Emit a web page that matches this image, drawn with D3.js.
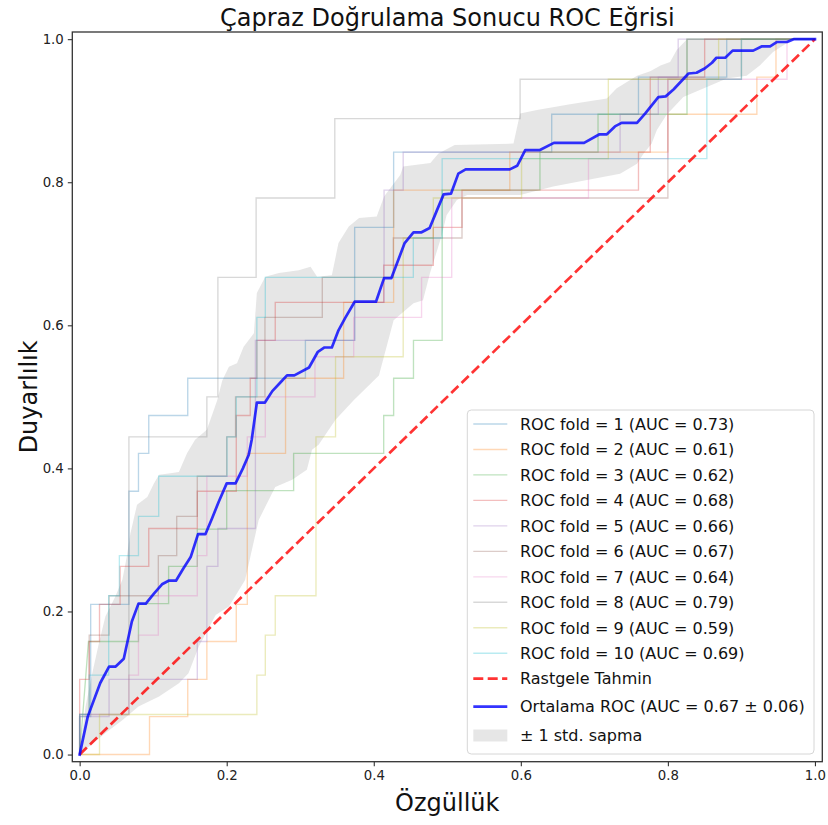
<!DOCTYPE html>
<html>
<head>
<meta charset="utf-8">
<script src="https://cdn.jsdelivr.net/npm/d3@7"></script>
<style>
  html, body { margin: 0; padding: 0; background: #fff; }
  svg { display: block; font-family: "DejaVu Sans", sans-serif; }
</style>
</head>
<body>
<svg id="chart" width="828" height="825"></svg>
<script>
// ---------------- DATA ----------------
const chartTitle = "Çapraz Doğrulama Sonucu ROC Eğrisi";
const xLabel = "Özgüllük";
const yLabel = "Duyarlılık";
const tickValues = [0, 0.2, 0.4, 0.6, 0.8, 1.0];
const foldAUCs = [0.73, 0.61, 0.62, 0.68, 0.66, 0.67, 0.64, 0.79, 0.59, 0.69];
const meanAUC = 0.67, stdAUC = 0.06;
const chanceLabel = "Rastgele Tahmin";
const stdLabel = "± 1 std. sapma";

const fold1 = [[0,0],[0,0.053],[0.015,0.053],[0.015,0.21],[0.067,0.21],[0.067,0.368],[0.08,0.368],[0.08,0.421],[0.094,0.421],[0.094,0.474],[0.147,0.474],[0.147,0.526],[0.307,0.526],[0.307,0.579],[0.374,0.579],[0.374,0.737],[0.427,0.737],[0.427,0.842],[0.642,0.842],[0.642,0.895],[0.76,0.895],[0.76,0.947],[0.88,0.947],[0.88,1],[1,1]];
const fold2 = [[0,0],[0.095,0],[0.095,0.053],[0.147,0.053],[0.147,0.105],[0.173,0.105],[0.173,0.158],[0.213,0.158],[0.213,0.21],[0.228,0.21],[0.228,0.421],[0.28,0.421],[0.28,0.526],[0.359,0.526],[0.359,0.632],[0.427,0.632],[0.427,0.789],[0.585,0.789],[0.585,0.842],[0.80,0.842],[0.80,0.895],[0.921,0.895],[0.921,0.947],[0.947,0.947],[0.947,1],[1,1]];
const fold3 = [[0,0],[0.012,0.158],[0.08,0.158],[0.08,0.211],[0.121,0.211],[0.121,0.263],[0.16,0.263],[0.16,0.315],[0.2,0.315],[0.2,0.369],[0.291,0.369],[0.291,0.421],[0.4135,0.421],[0.4135,0.474],[0.427,0.474],[0.427,0.526],[0.454,0.526],[0.454,0.579],[0.493,0.579],[0.493,0.789],[0.626,0.789],[0.626,0.842],[0.705,0.842],[0.705,0.895],[0.826,0.895],[0.826,1],[1,1]];
const fold4 = [[0,0],[0,0.105],[0.013,0.105],[0.013,0.158],[0.027,0.158],[0.027,0.21],[0.055,0.21],[0.055,0.263],[0.094,0.263],[0.094,0.316],[0.16,0.316],[0.16,0.368],[0.213,0.368],[0.213,0.474],[0.232,0.474],[0.232,0.526],[0.241,0.526],[0.241,0.579],[0.266,0.579],[0.266,0.632],[0.4135,0.632],[0.4135,0.684],[0.481,0.684],[0.481,0.737],[0.52,0.737],[0.52,0.789],[0.76,0.789],[0.76,0.842],[0.776,0.842],[0.776,0.947],[0.85,0.947],[0.85,1],[1,1]];
const fold5 = [[0,0],[0,0.053],[0.04,0.053],[0.04,0.105],[0.16,0.105],[0.16,0.158],[0.173,0.158],[0.173,0.263],[0.188,0.263],[0.188,0.316],[0.239,0.316],[0.239,0.579],[0.374,0.579],[0.374,0.632],[0.414,0.632],[0.414,0.789],[0.44,0.789],[0.44,0.842],[0.735,0.842],[0.735,0.895],[0.787,0.895],[0.787,0.947],[0.814,0.947],[0.814,1],[1,1]];
const fold6 = [[0,0],[0,0.056],[0.013,0.056],[0.013,0.167],[0.04,0.167],[0.04,0.222],[0.107,0.222],[0.107,0.278],[0.132,0.278],[0.132,0.333],[0.16,0.333],[0.16,0.389],[0.2,0.389],[0.2,0.444],[0.212,0.444],[0.212,0.5],[0.252,0.5],[0.252,0.611],[0.33,0.611],[0.33,0.667],[0.4266,0.667],[0.4266,0.722],[0.52,0.722],[0.52,0.778],[0.80,0.778],[0.80,0.944],[0.9,0.944],[0.9,1],[1,1]];
const fold7 = [[0,0],[0,0.056],[0.067,0.056],[0.067,0.111],[0.08,0.111],[0.08,0.167],[0.107,0.167],[0.107,0.222],[0.16,0.222],[0.16,0.278],[0.173,0.278],[0.173,0.389],[0.228,0.389],[0.228,0.444],[0.2525,0.444],[0.2525,0.5],[0.32,0.5],[0.32,0.556],[0.3727,0.556],[0.3727,0.611],[0.465,0.611],[0.465,0.667],[0.506,0.667],[0.506,0.778],[0.692,0.778],[0.692,0.833],[0.80,0.833],[0.80,0.944],[0.962,0.944],[0.962,1],[1,1]];
const fold8 = [[0,0],[0,0.056],[0.067,0.056],[0.067,0.444],[0.173,0.444],[0.173,0.5],[0.188,0.5],[0.188,0.667],[0.24,0.667],[0.24,0.778],[0.347,0.778],[0.347,0.889],[0.599,0.889],[0.599,0.944],[0.826,0.944],[0.826,1],[1,1]];
const fold9 = [[0,0],[0.027,0],[0.027,0.056],[0.241,0.056],[0.241,0.111],[0.2525,0.111],[0.2525,0.167],[0.266,0.167],[0.266,0.222],[0.3214,0.222],[0.3214,0.444],[0.348,0.444],[0.348,0.556],[0.44,0.556],[0.44,0.722],[0.481,0.722],[0.481,0.778],[0.601,0.778],[0.601,0.833],[0.719,0.833],[0.719,0.944],[0.869,0.944],[0.869,1],[1,1]];
const fold10 = [[0,0],[0,0.056],[0.013,0.056],[0.013,0.111],[0.0395,0.111],[0.0395,0.222],[0.054,0.222],[0.054,0.278],[0.08,0.278],[0.08,0.333],[0.1075,0.333],[0.1075,0.389],[0.2004,0.389],[0.2004,0.444],[0.213,0.444],[0.213,0.5],[0.241,0.5],[0.241,0.611],[0.2525,0.611],[0.2525,0.667],[0.4538,0.667],[0.4538,0.722],[0.493,0.722],[0.493,0.833],[0.853,0.833],[0.853,0.944],[0.9,0.944],[0.9,1],[1,1]];
const folds = [fold1, fold2, fold3, fold4, fold5, fold6, fold7, fold8, fold9, fold10];

const meanROC = [[0,0],[0.011,0.053],[0.028,0.1],[0.04,0.123],[0.049,0.123],[0.06,0.134],[0.071,0.186],[0.08,0.211],[0.09,0.211],[0.101,0.225],[0.112,0.238],[0.121,0.243],[0.131,0.243],[0.141,0.26],[0.151,0.276],[0.161,0.308],[0.171,0.308],[0.18,0.33],[0.189,0.353],[0.2,0.379],[0.212,0.379],[0.222,0.4],[0.23,0.419],[0.234,0.44],[0.241,0.492],[0.252,0.492],[0.262,0.508],[0.273,0.52],[0.282,0.53],[0.292,0.53],[0.312,0.541],[0.324,0.563],[0.333,0.569],[0.343,0.569],[0.352,0.593],[0.361,0.61],[0.374,0.633],[0.403,0.633],[0.414,0.666],[0.424,0.666],[0.442,0.715],[0.454,0.73],[0.465,0.73],[0.476,0.736],[0.486,0.761],[0.495,0.783],[0.505,0.784],[0.515,0.812],[0.525,0.818],[0.585,0.818],[0.595,0.823],[0.606,0.845],[0.626,0.845],[0.645,0.855],[0.686,0.855],[0.707,0.867],[0.717,0.867],[0.728,0.878],[0.737,0.883],[0.758,0.883],[0.769,0.896],[0.787,0.919],[0.797,0.92],[0.808,0.93],[0.828,0.952],[0.839,0.953],[0.85,0.959],[0.86,0.967],[0.866,0.974],[0.878,0.974],[0.888,0.984],[0.916,0.984],[0.928,0.99],[0.939,0.99],[0.948,0.996],[0.962,0.996],[0.971,1],[1,1]];

const stdUpper = [[0,0],[0.008,0.067],[0.017,0.113],[0.026,0.155],[0.035,0.193],[0.0485,0.221],[0.058,0.244],[0.064,0.276],[0.069,0.309],[0.078,0.349],[0.092,0.36],[0.101,0.379],[0.108,0.391],[0.121,0.393],[0.135,0.395],[0.146,0.421],[0.157,0.44],[0.173,0.454],[0.187,0.495],[0.194,0.523],[0.203,0.542],[0.214,0.547],[0.223,0.57],[0.237,0.589],[0.241,0.645],[0.2525,0.668],[0.271,0.673],[0.298,0.677],[0.314,0.682],[0.323,0.668],[0.343,0.67],[0.352,0.715],[0.366,0.738],[0.38,0.75],[0.404,0.752],[0.414,0.78],[0.436,0.81],[0.44,0.822],[0.477,0.827],[0.488,0.84],[0.51,0.852],[0.59,0.854],[0.599,0.896],[0.622,0.901],[0.667,0.909],[0.717,0.917],[0.73,0.931],[0.758,0.949],[0.776,0.955],[0.79,0.963],[0.803,0.968],[0.812,0.985],[0.826,1],[1,1]];
const stdLower = [[0,0],[0.035,0.03],[0.058,0.048],[0.08,0.067],[0.108,0.081],[0.135,0.0995],[0.148,0.1135],[0.162,0.151],[0.185,0.195],[0.203,0.207],[0.225,0.244],[0.2435,0.328],[0.266,0.374],[0.289,0.384],[0.309,0.398],[0.316,0.426],[0.325,0.433],[0.348,0.468],[0.373,0.4955],[0.407,0.53],[0.427,0.607],[0.454,0.631],[0.467,0.635],[0.4765,0.673],[0.492,0.724],[0.499,0.754],[0.513,0.775],[0.527,0.782],[0.599,0.782],[0.644,0.794],[0.69,0.803],[0.735,0.812],[0.758,0.826],[0.767,0.84],[0.778,0.854],[0.785,0.873],[0.798,0.894],[0.821,0.919],[0.857,0.935],[0.88,0.945],[0.907,0.949],[0.925,0.963],[0.943,0.982],[0.97,1],[1,1]];

const foldColors = ["#1f77b4","#ff7f0e","#2ca02c","#d62728","#9467bd","#8c564b","#e377c2","#7f7f7f","#bcbd22","#17becf"];

// ---------------- DRAWING ----------------
const svg = d3.select("#chart");
const L = 72.3, R = 822.3, T = 32, B = 761.7;
const x = d3.scaleLinear().domain([-0.01, 1.01]).range([L, R]);
const y = d3.scaleLinear().domain([-0.01, 1.01]).range([B, T]);
const line = d3.line().x(d => x(d[0])).y(d => y(d[1]));

// std band (zorder below lines)
svg.append("path")
  .attr("d", line(stdUpper.concat(stdLower.slice().reverse())) + "Z")
  .attr("fill", "#808080").attr("fill-opacity", 0.2).attr("stroke", "none");

// fold curves
folds.forEach((f, i) => {
  svg.append("path").attr("d", line(f))
    .attr("fill", "none").attr("stroke", foldColors[i])
    .attr("stroke-opacity", 0.3).attr("stroke-width", 1.35);
});

// chance line
svg.append("path").attr("d", line([[0,0],[1,1]]))
  .attr("fill", "none").attr("stroke", "#ff0000").attr("stroke-opacity", 0.8)
  .attr("stroke-width", 2.7).attr("stroke-dasharray", "10,4.4");

// mean ROC
svg.append("path").attr("d", line(meanROC))
  .attr("fill", "none").attr("stroke", "#0000ff").attr("stroke-opacity", 0.8)
  .attr("stroke-width", 2.7).attr("stroke-linejoin", "round").attr("stroke-linecap", "square");

// axes
const fmt = d3.format(".1f");
const xAxis = svg.append("g").attr("transform", `translate(0,${B})`)
  .call(d3.axisBottom(x).tickValues(tickValues).tickFormat(fmt).tickSize(4.5).tickPadding(4));
const yAxis = svg.append("g").attr("transform", `translate(${L},0)`)
  .call(d3.axisLeft(y).tickValues(tickValues).tickFormat(fmt).tickSize(4.5).tickPadding(4));
[xAxis, yAxis].forEach(g => {
  g.select(".domain").remove();
  g.selectAll(".tick line").attr("stroke", "#333").attr("stroke-width", 1.1);
  g.selectAll(".tick text").attr("fill", "#222")
    .style("font-family", "DejaVu Sans").style("font-size", "13.3px");
});

// spines
svg.append("rect").attr("x", L).attr("y", T).attr("width", R - L).attr("height", B - T)
  .attr("fill", "none").attr("stroke", "#333").attr("stroke-width", 1.3);

// title and axis labels
svg.append("text").attr("x", (L + R) / 2).attr("y", 26).attr("text-anchor", "middle")
  .style("font-size", "24px").attr("fill", "#111").text(chartTitle);
svg.append("text").attr("x", (L + R) / 2).attr("y", 811).attr("text-anchor", "middle")
  .style("font-size", "24px").attr("fill", "#111").text(xLabel);
svg.append("text").attr("transform", `translate(37,${(T + B) / 2}) rotate(-90)`)
  .attr("text-anchor", "middle").style("font-size", "24px").attr("fill", "#111").text(yLabel);

// legend
const lg = svg.append("g");
lg.append("rect").attr("x", 467.3).attr("y", 410).attr("width", 346.7).attr("height", 344)
  .attr("rx", 4).attr("fill", "#fff").attr("fill-opacity", 0.8)
  .attr("stroke", "#d6d6d6").attr("stroke-width", 1);
const hx0 = 473.3, hx1 = 507.3, tx = 520;
const rowsY = foldAUCs.map((a, i) => 424 + i * 25.47);
foldAUCs.forEach((a, i) => {
  const cy = rowsY[i];
  lg.append("line").attr("x1", hx0).attr("x2", hx1).attr("y1", cy).attr("y2", cy)
    .attr("stroke", foldColors[i]).attr("stroke-opacity", 0.3).attr("stroke-width", 1.35);
  lg.append("text").attr("x", tx).attr("y", cy).attr("dy", "0.36em")
    .style("font-size", "16px").attr("fill", "#111")
    .text(`ROC fold = ${i + 1} (AUC = ${a.toFixed(2)})`);
});
const chanceY = 424 + 10 * 25.47;
lg.append("line").attr("x1", hx0).attr("x2", hx1).attr("y1", chanceY).attr("y2", chanceY)
  .attr("stroke", "#ff0000").attr("stroke-opacity", 0.8).attr("stroke-width", 2.7)
  .attr("stroke-dasharray", "10,4.4");
lg.append("text").attr("x", tx).attr("y", chanceY).attr("dy", "0.36em")
  .style("font-size", "16px").attr("fill", "#111").text(chanceLabel);
const meanY = 706.7;
lg.append("line").attr("x1", hx0).attr("x2", hx1).attr("y1", meanY).attr("y2", meanY)
  .attr("stroke", "#0000ff").attr("stroke-opacity", 0.8).attr("stroke-width", 2.7);
lg.append("text").attr("x", tx).attr("y", meanY).attr("dy", "0.36em")
  .style("font-size", "16px").attr("fill", "#111")
  .text(`Ortalama ROC (AUC = ${meanAUC.toFixed(2)} ± ${stdAUC.toFixed(2)})`);
const stdY = 735.5;
lg.append("rect").attr("x", hx0).attr("y", stdY - 6).attr("width", hx1 - hx0).attr("height", 12)
  .attr("fill", "#808080").attr("fill-opacity", 0.2);
lg.append("text").attr("x", tx).attr("y", stdY).attr("dy", "0.36em")
  .style("font-size", "16px").attr("fill", "#111").text(stdLabel);
</script>
</body>
</html>
